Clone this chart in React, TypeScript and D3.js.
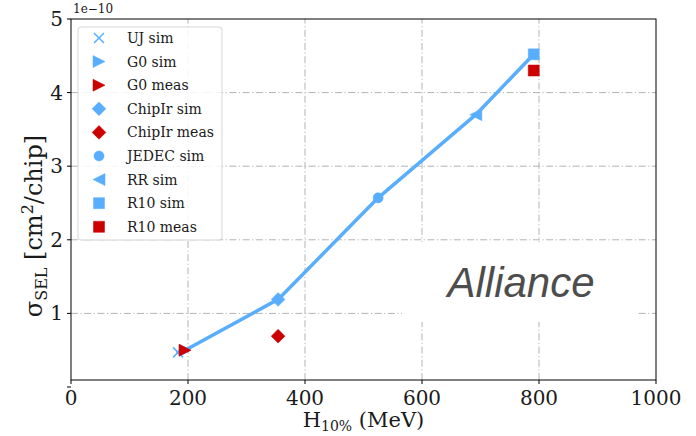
import React from 'react';
import * as d3 from 'd3';

// values in units of 1e-10 cm^2/chip
const simNames = ['UJ sim', 'G0 sim', 'ChipIr sim', 'JEDEC sim', 'RR sim', 'R10 sim'];
const simH = [183, 195, 354, 525, 692, 791];
const simSigma = [0.47, 0.5, 1.19, 2.57, 3.7, 4.52];
const simMarkers = ['x', 'tri-right', 'diamond', 'circle', 'tri-left', 'square'];

const measNames = ['G0 meas', 'ChipIr meas', 'R10 meas'];
const measH = [195, 354, 791];
const measSigma = [0.5, 0.69, 4.3];
const measMarkers = ['tri-right', 'diamond', 'square'];

const legendOrder = ['UJ sim', 'G0 sim', 'G0 meas', 'ChipIr sim', 'ChipIr meas', 'JEDEC sim', 'RR sim', 'R10 sim', 'R10 meas'];

const xTicks = [0, 200, 400, 600, 800, 1000];
const yTicks = [1, 2, 3, 4, 5];

const BLUE = '#58aefc';
const RED = '#cc0000';
const SERIF = 'DejaVu Serif';

const W = 696, H = 436;
const margin = { top: 19, right: 40, bottom: 56, left: 71 };

function markerPath(kind: string, s: number): string {
  const h = s / 2;
  switch (kind) {
    case 'square':
      return `M${-h},${-h}H${h}V${h}H${-h}Z`;
    case 'diamond':
      return `M0,${-h * 1.25}L${h * 1.25},0L0,${h * 1.25}L${-h * 1.25},0Z`;
    case 'tri-right':
      return `M${h},0L${-h},${-h}L${-h},${h}Z`;
    case 'tri-left':
      return `M${-h},0L${h},${-h}L${h},${h}Z`;
    case 'x':
      return `M${-h},${-h}L${h},${h}M${-h},${h}L${h},${-h}`;
    default:
      return d3.symbol(d3.symbolCircle, Math.PI * h * h * 0.85)() || '';
  }
}

function Marker({ kind, color, x, y, size }: { kind: string; color: string; x: number; y: number; size: number }) {
  const isX = kind === 'x';
  return (
    <path
      d={markerPath(kind, size)}
      transform={`translate(${x},${y})`}
      fill={isX ? 'none' : color}
      stroke={color}
      strokeWidth={isX ? 1.5 : 0.5}
    />
  );
}

const markerSize: Record<string, number> = { square: 11, diamond: 11, 'tri-right': 12, 'tri-left': 12, circle: 11, x: 10 };

export default function App() {
  const x = d3.scaleLinear().domain([0, 1000]).range([margin.left, W - margin.right]);
  const y = d3.scaleLinear().domain([0.095, 5]).range([H - margin.bottom, margin.top]);

  const line = d3.line<number>().x(i => x(simH[i])).y(i => y(simSigma[i]));
  const simIdx = simH.map((_, i) => i).sort((a, b) => simH[a] - simH[b]);

  const x0 = x.range()[0], x1 = x.range()[1];
  const y0 = y.range()[0], y1 = y.range()[1];
  const gridDash = '7,2.5,1.2,2.5';

  return (
    <svg width={W} height={H} style={{ position: 'absolute', left: 0, top: 0, background: '#fff' }}>
      {/* grid */}
      <g stroke="#b3b3b3" strokeWidth={1} strokeDasharray={gridDash}>
        {xTicks.filter(t => t > 0 && t < 1000).map(t => (
          <line key={'gx' + t} x1={x(t)} x2={x(t)} y1={y0} y2={y1} />
        ))}
        {yTicks.filter(t => t < 5).map(t => (
          <line key={'gy' + t} x1={x0} x2={x1} y1={y(t)} y2={y(t)} />
        ))}
      </g>

      {/* annotation box */}
      <rect x={402} y={242} width={235} height={80} fill="#fff" />
      <text x={521} y={297} textAnchor="middle" fontFamily="Liberation Sans" fontStyle="italic" fontSize={42} fill="#4d4d4d">
        Alliance
      </text>

      {/* sim line */}
      <path d={line(simIdx) || ''} fill="none" stroke={BLUE} strokeWidth={3.5} strokeLinejoin="round" strokeLinecap="round" />

      {/* sim markers */}
      {simNames.map((n, i) => (
        <Marker key={n} kind={simMarkers[i]} color={BLUE} x={x(simH[i])} y={y(simSigma[i])} size={markerSize[simMarkers[i]]} />
      ))}
      {/* measurements */}
      {measNames.map((n, i) => (
        <Marker key={n} kind={measMarkers[i]} color={RED} x={x(measH[i])} y={y(measSigma[i])} size={markerSize[measMarkers[i]]} />
      ))}

      {/* legend */}
      <g>
        <rect x={78} y={27} width={144} height={213} rx={3} fill="#fff" fillOpacity={0.85} stroke="#d6d6d6" strokeWidth={1} />
        {legendOrder.map((name, i) => {
          const si = simNames.indexOf(name);
          const mi = measNames.indexOf(name);
          const kind = si >= 0 ? simMarkers[si] : measMarkers[mi];
          const color = si >= 0 ? BLUE : RED;
          const ly = 38 + i * 23.6;
          return (
            <g key={name}>
              <Marker kind={kind} color={color} x={99} y={ly} size={markerSize[kind]} />
              <text x={127} y={ly + 5} fontFamily={SERIF} fontSize={14} fill="#1a1a1a">{name}</text>
            </g>
          );
        })}
      </g>

      {/* axes frame */}
      <rect x={x0} y={y1} width={x1 - x0} height={y0 - y1} fill="none" stroke="#000" strokeWidth={1} />

      {/* x ticks */}
      {xTicks.map(t => (
        <g key={'xt' + t}>
          <line x1={x(t)} x2={x(t)} y1={y0} y2={y0 + 4} stroke="#000" />
          <text x={x(t)} y={y0 + 25} textAnchor="middle" fontFamily={SERIF} fontSize={20} fill="#1a1a1a">{t}</text>
        </g>
      ))}
      {/* y ticks */}
      {yTicks.map(t => (
        <g key={'yt' + t}>
          <line x1={x0} x2={x0 - 4} y1={y(t)} y2={y(t)} stroke="#000" />
          <text x={x0 - 8} y={y(t) + 7} textAnchor="end" fontFamily={SERIF} fontSize={20} fill="#1a1a1a">{t}</text>
        </g>
      ))}
      <line x1={x0} x2={x0 - 4} y1={y(0)} y2={y(0)} stroke="#000" />
      <text x={x0 + 2} y={y1 - 6} fontFamily={SERIF} fontSize={12} fill="#1a1a1a">1e−10</text>

      {/* axis labels */}
      <text x={(x0 + x1) / 2} y={427} textAnchor="middle" fontFamily={SERIF} fontSize={21} fill="#1a1a1a">
        H<tspan fontSize={14} dy={4}>10%</tspan><tspan dy={-4}> (MeV)</tspan>
      </text>
      <text transform={`translate(42,226) rotate(-90)`} textAnchor="middle" fontFamily={SERIF} fontSize={24} fill="#1a1a1a">
        σ<tspan fontSize={16} dy={5}>SEL</tspan><tspan dy={-5}> [cm</tspan><tspan fontSize={16} dy={-9}>2</tspan><tspan dy={9}>/chip]</tspan>
      </text>
    </svg>
  );
}
